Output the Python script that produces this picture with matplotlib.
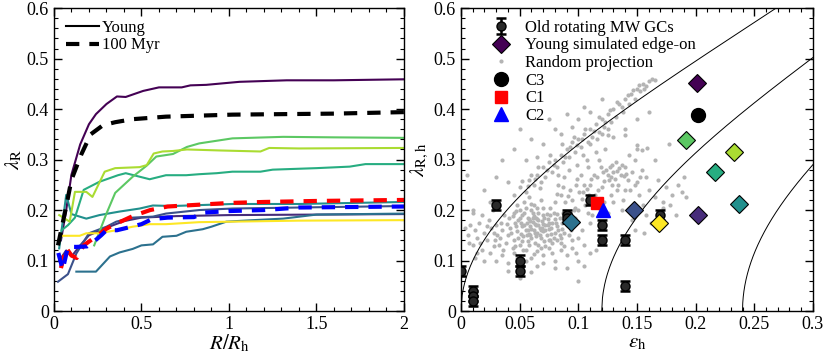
import numpy as np
import matplotlib.pyplot as plt
from matplotlib.ticker import MultipleLocator

plt.rcParams['font.family'] = ['Liberation Serif', 'DejaVu Serif']
plt.rcParams['mathtext.fontset'] = 'stix'

# colores de las 9 simulaciones (viridis)
sim_colors = ['#440154', '#472c7a', '#3b518b', '#2c718e', '#21908d',
              '#27ad81', '#5cc863', '#aadc32', '#fde725']

# perfiles lambda_R(R/Rh) de las simulaciones jovenes
prof_r = [
    [0.04, 0.07, 0.1, 0.15, 0.2, 0.24, 0.3, 0.36, 0.41, 0.51, 0.6, 0.73, 0.78, 0.87, 1.06, 1.33, 1.6, 2.0],
    [0.03, 0.07, 0.1, 0.15, 0.2, 0.3, 0.4, 0.5, 0.7, 1.0, 1.5, 2.0],
    [0.023, 0.08, 0.128, 0.2, 0.3, 0.356, 0.45, 0.566, 0.64, 0.83, 1.02, 1.4, 2.0],
    [0.128, 0.24, 0.32, 0.375, 0.45, 0.5, 0.566, 0.62, 0.7, 0.756, 0.85, 0.9, 0.985, 1.14, 1.31, 1.5, 2.0],
    [0.03, 0.07, 0.1, 0.147, 0.185, 0.26, 0.375, 0.49, 0.565, 0.68, 1.02, 1.4, 2.0],
    [0.044, 0.08, 0.12, 0.17, 0.26, 0.366, 0.41, 0.547, 0.64, 0.756, 0.83, 0.93, 1.02, 1.18, 1.25, 1.5, 1.69, 1.78, 2.0],
    [0.23, 0.3, 0.35, 0.45, 0.53, 0.585, 0.68, 0.76, 0.83, 1.02, 1.31, 1.6, 2.0],
    [0.03, 0.09, 0.12, 0.185, 0.22, 0.29, 0.35, 0.49, 0.53, 0.57, 0.62, 0.68, 0.76, 0.95, 1.18, 1.23, 1.4, 2.0],
    [0.05, 0.147, 0.185, 0.26, 0.356, 0.45, 0.547, 0.64, 0.83, 1.02, 1.4, 2.0],
]
prof_lam = [
    [0.14, 0.2, 0.27, 0.33, 0.37, 0.39, 0.41, 0.425, 0.424, 0.436, 0.443, 0.443, 0.447, 0.448, 0.454, 0.457, 0.457, 0.459],
    [0.1, 0.12, 0.108, 0.13, 0.15, 0.165, 0.178, 0.185, 0.188, 0.19, 0.191, 0.192],
    [0.058, 0.073, 0.114, 0.154, 0.167, 0.177, 0.185, 0.187, 0.193, 0.2, 0.203, 0.205, 0.208],
    [0.078, 0.078, 0.108, 0.116, 0.123, 0.13, 0.132, 0.147, 0.149, 0.157, 0.162, 0.167, 0.177, 0.18, 0.183, 0.191, 0.193],
    [0.124, 0.23, 0.192, 0.187, 0.183, 0.19, 0.197, 0.203, 0.209, 0.208, 0.212, 0.212, 0.216],
    [0.16, 0.17, 0.185, 0.24, 0.256, 0.269, 0.273, 0.261, 0.269, 0.269, 0.271, 0.273, 0.276, 0.276, 0.28, 0.283, 0.286, 0.291, 0.291],
    [0.13, 0.193, 0.234, 0.266, 0.288, 0.306, 0.311, 0.325, 0.332, 0.342, 0.345, 0.344, 0.343],
    [0.19, 0.177, 0.236, 0.236, 0.226, 0.276, 0.283, 0.285, 0.289, 0.312, 0.316, 0.317, 0.32, 0.318, 0.316, 0.323, 0.322, 0.323],
    [0.149, 0.149, 0.154, 0.154, 0.16, 0.167, 0.172, 0.172, 0.176, 0.177, 0.179, 0.18],
]

# perfiles a 100 Myr (C3 negro, C1 rojo, C2 azul)
c3_r = [0.023, 0.07, 0.1, 0.156, 0.21, 0.28, 0.35, 0.45, 0.64, 1.02, 1.6, 2.0]
c3_lam = [0.13, 0.207, 0.26, 0.31, 0.35, 0.368, 0.374, 0.38, 0.385, 0.389, 0.391, 0.394]
c1_r = [0.04, 0.07, 0.1, 0.13, 0.17, 0.25, 0.3, 0.35, 0.45, 0.55, 0.65, 0.8, 1.0, 1.2, 1.5, 2.0]
c1_lam = [0.085, 0.125, 0.11, 0.105, 0.13, 0.15, 0.163, 0.172, 0.188, 0.2, 0.207, 0.21, 0.214, 0.216, 0.218, 0.22]
c2_r = [0.025, 0.05, 0.08, 0.13, 0.19, 0.23, 0.27, 0.3, 0.36, 0.42, 0.5, 0.56, 0.65, 0.8, 0.86, 1.0, 1.2, 1.4, 1.7, 2.0]
c2_lam = [0.115, 0.082, 0.127, 0.127, 0.128, 0.138, 0.15, 0.16, 0.16, 0.165, 0.172, 0.182, 0.185, 0.186, 0.195, 0.198, 0.2, 0.205, 0.206, 0.207]

# cumulos globulares de la VL con rotacion
gc_eps = [0.0, 0.01, 0.01, 0.01, 0.03, 0.05, 0.05, 0.09, 0.09, 0.11, 0.12, 0.12, 0.14, 0.14, 0.17]
gc_lam = [0.08, 0.04, 0.03, 0.02, 0.21, 0.10, 0.08, 0.19, 0.185, 0.22, 0.17, 0.14, 0.14, 0.05, 0.19]
gc_err = [0.01] * len(gc_eps)

# simulaciones jovenes vistas de canto (mismo orden de colores)
edge_eps = [0.2015, 0.2024, 0.1473, 0.0942, 0.2367, 0.2166, 0.192, 0.233, 0.1689]
edge_lam = [0.452, 0.191, 0.200, 0.177, 0.212, 0.276, 0.339, 0.314, 0.175]

c3_pt = (0.2018, 0.389)
c1_pt = (0.116, 0.2145)
c2_pt = (0.121, 0.201)

# proyecciones aleatorias
rand_proj = [
    # nucleo denso
    (0.040, 0.150), (0.042, 0.165), (0.045, 0.140), (0.046, 0.175), (0.048, 0.158), (0.050, 0.185),
    (0.050, 0.130), (0.052, 0.168), (0.053, 0.148), (0.054, 0.195), (0.055, 0.160), (0.056, 0.175),
    (0.057, 0.138), (0.058, 0.182), (0.058, 0.152), (0.059, 0.168), (0.060, 0.200), (0.060, 0.145),
    (0.061, 0.176), (0.062, 0.160), (0.062, 0.188), (0.063, 0.135), (0.064, 0.170), (0.065, 0.155),
    (0.065, 0.182), (0.066, 0.195), (0.067, 0.165), (0.068, 0.145), (0.069, 0.178), (0.070, 0.158),
    (0.070, 0.190), (0.072, 0.170), (0.073, 0.150), (0.074, 0.182), (0.075, 0.162), (0.076, 0.140),
    (0.078, 0.175), (0.079, 0.195), (0.080, 0.155), (0.082, 0.168), (0.084, 0.185), (0.085, 0.145),
    (0.038, 0.135), (0.041, 0.185), (0.044, 0.125), (0.047, 0.198), (0.049, 0.145), (0.051, 0.175),
    (0.053, 0.120), (0.055, 0.205), (0.057, 0.160), (0.059, 0.150), (0.061, 0.185), (0.063, 0.172),
    (0.064, 0.148), (0.066, 0.180), (0.068, 0.160), (0.070, 0.172), (0.071, 0.138), (0.073, 0.192),
    (0.075, 0.175), (0.077, 0.152), (0.080, 0.182), (0.083, 0.160), (0.086, 0.175), (0.088, 0.155),
    (0.090, 0.170), (0.092, 0.150), (0.087, 0.195), (0.035, 0.160), (0.033, 0.145), (0.030, 0.170),
    (0.028, 0.155), (0.036, 0.120), (0.032, 0.130), (0.054, 0.215), (0.062, 0.210), (0.068, 0.220),
    (0.058, 0.225), (0.048, 0.210),
    (0.043, 0.155), (0.047, 0.168), (0.049, 0.180), (0.051, 0.152), (0.052, 0.190), (0.054, 0.170),
    (0.056, 0.150), (0.057, 0.185), (0.059, 0.178), (0.060, 0.162), (0.061, 0.195), (0.063, 0.155),
    (0.064, 0.185), (0.066, 0.170), (0.067, 0.150), (0.069, 0.165), (0.071, 0.185), (0.072, 0.160),
    (0.074, 0.170), (0.076, 0.190), (0.077, 0.165), (0.079, 0.145), (0.081, 0.175), (0.082, 0.192),
    (0.084, 0.150), (0.086, 0.162), (0.089, 0.182), (0.091, 0.190), (0.093, 0.168), (0.039, 0.172),
    (0.037, 0.190), (0.034, 0.175), (0.031, 0.150), (0.029, 0.140), (0.045, 0.195), (0.046, 0.128),
    (0.052, 0.138), (0.058, 0.130), (0.066, 0.130), (0.072, 0.128), (0.078, 0.135), (0.082, 0.140),
    (0.060, 0.212), (0.065, 0.205), (0.070, 0.205), (0.076, 0.205), (0.050, 0.200), (0.044, 0.188),
    # borde izquierdo
    (0.003, 0.165), (0.006, 0.150), (0.008, 0.170), (0.010, 0.130), (0.012, 0.160), (0.014, 0.145),
    (0.015, 0.175), (0.018, 0.120), (0.020, 0.155), (0.022, 0.140), (0.024, 0.180), (0.025, 0.115),
    (0.026, 0.165), (0.018, 0.190), (0.010, 0.195), (0.005, 0.270), (0.012, 0.105), (0.020, 0.100),
    (0.027, 0.200), (0.016, 0.135), (0.022, 0.168), (0.028, 0.128), (0.014, 0.115), (0.007, 0.135),
    # cola inferior
    (0.030, 0.100), (0.035, 0.110), (0.040, 0.095), (0.045, 0.115), (0.055, 0.120), (0.060, 0.105),
    (0.065, 0.118), (0.070, 0.110), (0.075, 0.125), (0.080, 0.100), (0.085, 0.120), (0.090, 0.110),
    (0.095, 0.125), (0.100, 0.100), (0.105, 0.130), (0.080, 0.085), (0.060, 0.078), (0.070, 0.095),
    (0.090, 0.085), (0.110, 0.115), (0.040, 0.080), (0.050, 0.065), (0.065, 0.090), (0.075, 0.140),
    (0.095, 0.140), (0.100, 0.060), (0.105, 0.090), (0.115, 0.120), (0.085, 0.135), (0.055, 0.100),
    (0.068, 0.125), (0.078, 0.115), (0.088, 0.128), (0.098, 0.115), (0.062, 0.112), (0.048, 0.105),
    # brazo superior
    (0.045, 0.230), (0.050, 0.245), (0.055, 0.235), (0.058, 0.260), (0.062, 0.250), (0.065, 0.270),
    (0.068, 0.255), (0.070, 0.285), (0.072, 0.265), (0.075, 0.295), (0.078, 0.275), (0.080, 0.300),
    (0.082, 0.285), (0.085, 0.310), (0.087, 0.295), (0.090, 0.320), (0.092, 0.305), (0.095, 0.335),
    (0.097, 0.315), (0.100, 0.340), (0.102, 0.325), (0.105, 0.350), (0.108, 0.335), (0.110, 0.360),
    (0.112, 0.345), (0.115, 0.370), (0.118, 0.355), (0.120, 0.380), (0.122, 0.365), (0.125, 0.390),
    (0.128, 0.375), (0.130, 0.400), (0.132, 0.385), (0.135, 0.410), (0.138, 0.395), (0.140, 0.420),
    (0.143, 0.410), (0.145, 0.430), (0.148, 0.420), (0.150, 0.440), (0.153, 0.435), (0.155, 0.450),
    (0.158, 0.445), (0.160, 0.455), (0.163, 0.460), (0.165, 0.458), (0.152, 0.448), (0.142, 0.428),
    (0.133, 0.415), (0.118, 0.385), (0.106, 0.360), (0.096, 0.345), (0.086, 0.330), (0.076, 0.310),
    (0.066, 0.285), (0.060, 0.270), (0.110, 0.330), (0.120, 0.350), (0.125, 0.360), (0.104, 0.310),
    (0.052, 0.258), (0.057, 0.248), (0.063, 0.262), (0.067, 0.243), (0.073, 0.280), (0.079, 0.290),
    (0.083, 0.270), (0.089, 0.305), (0.093, 0.325), (0.099, 0.328), (0.103, 0.340), (0.113, 0.357),
    (0.116, 0.340), (0.123, 0.375), (0.127, 0.398), (0.137, 0.405), (0.147, 0.438), (0.156, 0.440),
    # zona central
    (0.095, 0.220), (0.098, 0.250), (0.100, 0.200), (0.102, 0.270), (0.104, 0.235), (0.106, 0.210),
    (0.108, 0.285), (0.110, 0.250), (0.112, 0.190), (0.114, 0.230), (0.116, 0.265), (0.118, 0.300),
    (0.120, 0.245), (0.122, 0.215), (0.124, 0.280), (0.126, 0.260), (0.128, 0.230), (0.130, 0.275),
    (0.132, 0.295), (0.134, 0.250), (0.136, 0.270), (0.138, 0.220), (0.140, 0.285), (0.142, 0.260),
    (0.144, 0.240), (0.146, 0.275), (0.148, 0.300), (0.150, 0.255), (0.152, 0.230), (0.154, 0.280),
    (0.127, 0.285), (0.131, 0.262), (0.135, 0.283), (0.139, 0.268), (0.129, 0.250), (0.133, 0.240),
    (0.121, 0.275), (0.117, 0.240), (0.113, 0.270), (0.109, 0.230), (0.105, 0.250), (0.101, 0.235),
    (0.097, 0.205), (0.093, 0.240), (0.089, 0.215), (0.085, 0.230), (0.080, 0.215), (0.083, 0.250),
    (0.088, 0.265), (0.092, 0.280), (0.099, 0.290), (0.107, 0.300), (0.115, 0.315), (0.123, 0.320),
    (0.143, 0.310), (0.150, 0.320), (0.137, 0.200), (0.145, 0.205), (0.155, 0.210), (0.158, 0.190),
    (0.146, 0.180), (0.125, 0.195), (0.118, 0.205), (0.110, 0.175), (0.103, 0.160), (0.097, 0.185),
    (0.094, 0.160), (0.100, 0.145),
    (0.125, 0.270), (0.129, 0.290), (0.133, 0.278), (0.137, 0.290), (0.141, 0.272), (0.128, 0.265),
    (0.122, 0.258), (0.119, 0.285), (0.111, 0.262), (0.107, 0.242), (0.103, 0.222), (0.099, 0.262),
    (0.091, 0.228), (0.087, 0.245), (0.082, 0.232), (0.114, 0.215), (0.130, 0.215), (0.140, 0.240),
    (0.148, 0.250), (0.153, 0.265), (0.108, 0.195), (0.096, 0.200), (0.090, 0.195),
    # derecha dispersa
    (0.160, 0.240), (0.165, 0.225), (0.168, 0.260), (0.172, 0.205), (0.175, 0.245), (0.180, 0.230),
    (0.185, 0.250), (0.188, 0.235), (0.162, 0.175), (0.170, 0.180), (0.178, 0.210), (0.192, 0.225),
    (0.183, 0.190), (0.158, 0.265), (0.165, 0.300), (0.177, 0.330), (0.190, 0.265), (0.172, 0.215),
    (0.156, 0.155), (0.148, 0.160), (0.159, 0.323), (0.154, 0.319), (0.150, 0.329), (0.140, 0.349),
    (0.125, 0.349),
    # dispersos arriba
    (0.010, 0.200), (0.020, 0.240), (0.030, 0.265), (0.035, 0.300), (0.045, 0.320), (0.050, 0.360),
    (0.060, 0.340), (0.070, 0.330), (0.075, 0.380), (0.085, 0.350), (0.100, 0.380), (0.120, 0.420),
    (0.105, 0.405), (0.095, 0.365), (0.040, 0.255), (0.025, 0.215), (0.055, 0.300), (0.065, 0.305),
    (0.080, 0.360), (0.140, 0.360), (0.130, 0.345), (0.150, 0.380), (0.160, 0.395), (0.110, 0.395),
    (0.090, 0.390),
]

# curvas guia lambda = k * sqrt((eps - eps0) / (1 - eps))
guide_eps0 = [0.0, 0.12, 0.24]
guide_k = 0.99

fig = plt.figure(figsize=(8.3, 3.61), dpi=100)
ax1 = fig.add_axes([0.065, 0.1385, 0.4217, 0.839])
ax2 = fig.add_axes([0.5554, 0.1385, 0.424, 0.839])

# ---- panel izquierdo ----
for r, lam, c in zip(prof_r, prof_lam, sim_colors):
    ax1.plot(r, lam, color=c, lw=1.5)
ax1.plot(c3_r, c3_lam, color='k', lw=3, dashes=(3.2, 2.4))
ax1.plot(c1_r, c1_lam, color='red', lw=3, dashes=(3.2, 2.4))
ax1.plot(c2_r, c2_lam, color='blue', lw=3, dashes=(3.2, 2.4))

ax1.plot([], [], color='k', lw=1.5, label='Young')
ax1.plot([], [], color='k', lw=3, dashes=(3.2, 2.4), label='100 Myr')
ax1.legend(loc='upper left', frameon=False, fontsize=12, handlelength=2.0,
           handletextpad=0.2, labelspacing=0.1, borderaxespad=0.3)

ax1.set_xlim(0, 2)
ax1.set_ylim(0, 0.6)
ax1.set_xticks([0, 0.5, 1, 1.5, 2])
ax1.set_xticklabels(['0', '0.5', '1', '1.5', '2'])
ax1.xaxis.set_minor_locator(MultipleLocator(0.1))
ax1.set_yticks([0, 0.1, 0.2, 0.3, 0.4, 0.5, 0.6])
ax1.set_yticklabels(['0', '0.1', '0.2', '0.3', '0.4', '0.5', '0.6'])
ax1.yaxis.set_minor_locator(MultipleLocator(0.02))
ax1.set_xlabel(r'$R/R_{\mathrm{h}}$', fontsize=15, labelpad=0)
ax1.set_ylabel(r'$\lambda_{\mathrm{R}}$', fontsize=15, labelpad=2)

# ---- panel derecho ----
cloud = np.array(rand_proj)
ax2.plot(cloud[:, 0], cloud[:, 1], 'o', color='#b4b4b4', ms=3.0, mew=0, ls='none', zorder=1)

for e0 in guide_eps0:
    ee = np.linspace(e0, 0.3, 300)
    ax2.plot(ee, guide_k * np.sqrt((ee - e0) / (1 - ee)), color='k', lw=0.7, zorder=2)

h_gc = ax2.errorbar(gc_eps, gc_lam, yerr=gc_err, fmt='o', color='k', mfc='#2a2a2a', mec='k',
                    ms=6.5, capsize=3.5, elinewidth=1.8, capthick=1.8, zorder=3)

for e, l, c in zip(edge_eps, edge_lam, sim_colors):
    ax2.plot(e, l, 'D', color=c, mec='k', mew=0.8, ms=9, zorder=4)
ax2.plot(c3_pt[0], c3_pt[1], 'o', color='k', ms=10, zorder=5)
ax2.plot(c1_pt[0], c1_pt[1], 's', color='red', ms=8, zorder=5)
ax2.plot(c2_pt[0], c2_pt[1], '^', color='blue', ms=10, zorder=5)

h_edge, = ax2.plot([], [], 'D', color=sim_colors[0], mec='k', mew=0.8, ms=9)
h_rand, = ax2.plot([], [], 'o', color='#b4b4b4', ms=3.0, mew=0)
h_c3, = ax2.plot([], [], 'o', color='k', ms=10)
h_c1, = ax2.plot([], [], 's', color='red', ms=8)
h_c2, = ax2.plot([], [], '^', color='blue', ms=10)
ax2.legend([h_gc, h_edge, h_rand, h_c3, h_c1, h_c2],
           ['Old rotating MW GCs', 'Young simulated edge-on', 'Random projection',
            'C3', 'C1', 'C2'],
           loc='upper left', frameon=False, fontsize=12, handlelength=1.5,
           handletextpad=0.7, labelspacing=0.1, borderaxespad=0.3,
           bbox_to_anchor=(0.045, 1.0))

ax2.set_xlim(0, 0.3)
ax2.set_ylim(0, 0.6)
ax2.set_xticks([0, 0.05, 0.1, 0.15, 0.2, 0.25, 0.3])
ax2.set_xticklabels(['0', '0.05', '0.1', '0.15', '0.2', '0.25', '0.3'])
ax2.xaxis.set_minor_locator(MultipleLocator(0.01))
ax2.set_yticks([0, 0.1, 0.2, 0.3, 0.4, 0.5, 0.6])
ax2.set_yticklabels(['0', '0.1', '0.2', '0.3', '0.4', '0.5', '0.6'])
ax2.yaxis.set_minor_locator(MultipleLocator(0.02))
ax2.set_xlabel(r'$\epsilon_{\mathrm{h}}$', fontsize=15, labelpad=0)
ax2.set_ylabel(r'$\lambda_{\mathrm{R,h}}$', fontsize=15, labelpad=2)

for ax in (ax1, ax2):
    ax.tick_params(which='both', direction='in', top=True, right=True, labelsize=13)
    ax.tick_params(which='major', length=6, width=1)
    ax.tick_params(which='minor', length=3, width=0.8)
    for s in ax.spines.values():
        s.set_linewidth(1)

plt.savefig('out.png', dpi=100)
